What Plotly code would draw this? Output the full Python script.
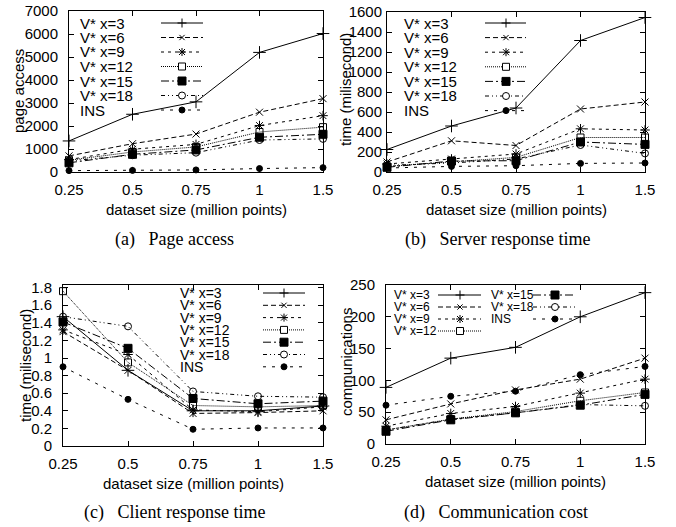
import plotly.graph_objects as go

W, H = 676, 527

# ---------------- data ----------------
dataset_sizes = ["0.25", "0.5", "0.75", "1", "1.5"]
series_names = ["V* x=3", "V* x=6", "V* x=9", "V* x=12", "V* x=15", "V* x=18", "INS"]

page_access = [
    [1350, 2510, 3050, 5200, 6020],   # V* x=3
    [700, 1230, 1650, 2600, 3190],    # V* x=6
    [540, 990, 1200, 2020, 2450],     # V* x=9
    [510, 870, 1090, 1740, 1950],     # V* x=12
    [400, 770, 960, 1510, 1640],      # V* x=15
    [480, 730, 840, 1390, 1440],      # V* x=18
    [60, 70, 90, 150, 190],           # INS
]

server_time = [
    [225, 460, 640, 1315, 1545],
    [100, 312, 265, 630, 700],
    [80, 130, 180, 432, 420],
    [56, 103, 146, 345, 345],
    [47, 110, 113, 300, 276],
    [66, 90, 130, 270, 186],
    [40, 56, 63, 86, 90],
]

client_time = [
    [1.47, 0.86, 0.40, 0.40, 0.455],
    [1.30, 0.86, 0.37, 0.38, 0.40],
    [1.32, 1.04, 0.41, 0.39, 0.445],
    [1.76, 0.95, 0.46, 0.445, 0.46],
    [1.41, 1.11, 0.54, 0.48, 0.51],
    [1.47, 1.36, 0.62, 0.565, 0.555],
    [0.90, 0.53, 0.19, 0.205, 0.205],
]

communication = [
    [89, 135, 152, 200, 238],
    [38, 63, 85, 102, 135],
    [28, 48, 59, 80, 102],
    [22, 39, 51, 68, 81],
    [20, 38, 49, 61, 78],
    [22, 39, 49, 62, 60],
    [61, 75, 83, 109, 122],
]

y_titles = ["page access", "time (milisecond)", "time (milisecond)", "communications"]
captions = ["(a)", "(b)", "(c)", "(d)"]
caption_texts = ["Page access", "Server response time", "Client response time", "Communication cost"]
x_title = "dataset size (million points)"

# ---------------- styles ----------------
dashes = ["solid", "5px,3px", "3px,4px", "1px,1px", "8px,3px,2px,3px", "4px,3px,1px,3px,1px,3px", "3px,6px"]
symbols = ["cross-thin", "x-thin", "asterisk", "square-open", "square", "circle-open", "circle"]
msizes = [9, 7, 8, 7, 8, 7, 6]
SANS = "Liberation Sans, Arial, Helvetica, sans-serif"
SERIF = "Liberation Serif, Times New Roman, serif"

# panel geometry in pixels: frame left, right, top, bottom
panels = [
    dict(data=page_access, frame=(69, 323, 11, 172), yrange=[0, 7000], dtick=1000, standoff=7,
         ytitle=(19, 91), xtitle=(196, 210), caption=(174, 240), legfont=15),
    dict(data=server_time, frame=(387, 645, 12, 172), yrange=[0, 1600], dtick=200, standoff=1,
         ytitle=(345, 90), xtitle=(516, 209), caption=(497, 240), legfont=15),
    dict(data=client_time, frame=(63, 323, 285, 446), yrange=[0, 1.83], dtick=0.2, standoff=7,
         ytitle=(25, 366), xtitle=(193, 483), caption=(174, 512), legfont=14),
    dict(data=communication, frame=(386, 645, 285, 444), yrange=[0, 250], dtick=50, standoff=7,
         ytitle=(346, 362), xtitle=(515, 482), caption=(496, 512), legfont=12),
]

# legend layout per panel: list of columns (text_x, line_x0, line_x1, marker_x, row_y0, row_step, series idx)
legends = [
    [(79, 161, 203, 182, 23, 14.5, list(range(7)))],
    [(403, 485, 526, 506, 23, 14.6, list(range(7)))],
    [(179, 263, 305, 284, 293, 12.3, list(range(7)))],
    [(393, 438, 481, 460, 295, 12.0, [0, 1, 2, 3]),
     (490, 533, 576, 555, 295, 12.0, [4, 5, 6])],
]


def px(x):
    return x / W


def py(y):
    return 1 - y / H


fig = go.Figure()
layout = dict(width=W, height=H, autosize=False, margin=dict(l=0, r=0, t=0, b=0),
              paper_bgcolor="white", plot_bgcolor="white", showlegend=False,
              font=dict(family=SANS, size=15, color="black"))
annotations = []
shapes = []

for p, pan in enumerate(panels):
    k = "" if p == 0 else str(p + 1)
    l, r, t, b = pan["frame"]
    axis_common = dict(showline=True, linecolor="black", linewidth=1, mirror="ticks",
                       ticks="inside", ticklen=5, tickwidth=1, tickcolor="black",
                       showgrid=False, zeroline=False, automargin=False,
                       tickfont=dict(family=SANS, size=15, color="black"))
    layout["xaxis" + k] = dict(axis_common, domain=[px(l), px(r)], anchor="y" + k,
                               type="category", range=[0, len(dataset_sizes) - 1],
                               categoryorder="array", categoryarray=dataset_sizes,
                               ticklabelstandoff=4)
    layout["yaxis" + k] = dict(axis_common, domain=[py(b), py(t)], anchor="x" + k,
                               range=pan["yrange"], dtick=pan["dtick"], tick0=0,
                               ticklabelstandoff=pan["standoff"])
    for i, name in enumerate(series_names):
        fig.add_trace(go.Scatter(
            x=dataset_sizes, y=pan["data"][i], name=name, mode="lines+markers",
            xaxis="x" + k, yaxis="y" + k, cliponaxis=False,
            line=dict(color="black", width=1, dash=dashes[i]),
            marker=dict(symbol=symbols[i], size=msizes[i], color="black",
                        line=dict(color="black", width=1)),
        ))
    # axis titles
    annotations.append(dict(text=y_titles[p], x=px(pan["ytitle"][0]), y=py(pan["ytitle"][1]),
                            xref="paper", yref="paper", showarrow=False, textangle=-90,
                            xanchor="center", yanchor="middle",
                            font=dict(family=SANS, size=15, color="black")))
    annotations.append(dict(text=x_title, x=px(pan["xtitle"][0]), y=py(pan["xtitle"][1]),
                            xref="paper", yref="paper", showarrow=False,
                            xanchor="center", yanchor="middle",
                            font=dict(family=SANS, size=15, color="black")))
    annotations.append(dict(text=captions[p] + "\u2002 " + caption_texts[p],
                            x=px(pan["caption"][0]), y=py(pan["caption"][1]),
                            xref="paper", yref="paper", showarrow=False,
                            xanchor="center", yanchor="middle",
                            font=dict(family=SERIF, size=18, color="black")))

    # legend (gnuplot style: label on the left, sample on the right)
    for (tx, lx0, lx1, mx, ry0, step, idxs) in legends[p]:
        for j, i in enumerate(idxs):
            yy = ry0 + j * step
            annotations.append(dict(text=series_names[i], x=px(tx), y=py(yy),
                                    xref="paper", yref="paper", showarrow=False,
                                    xanchor="left", yanchor="middle", borderpad=0,
                                    font=dict(family=SANS, size=pan["legfont"], color="black")))
            shapes.append(dict(type="line", xref="paper", yref="paper",
                               x0=px(lx0), x1=px(lx1), y0=py(yy), y1=py(yy),
                               line=dict(color="black", width=1, dash=dashes[i])))
            s = msizes[i] / 2.0
            base = dict(xref="paper", yref="paper", xsizemode="pixel", ysizemode="pixel",
                        xanchor=px(mx), yanchor=py(yy))
            sym = symbols[i]
            segs = []
            if sym in ("cross-thin", "asterisk"):
                segs += [(-s, 0, s, 0), (0, -s, 0, s)]
            if sym in ("x-thin", "asterisk"):
                d = s * 0.75
                segs += [(-d, -d, d, d), (-d, d, d, -d)]
            for (a0, b0, a1, b1) in segs:
                shapes.append(dict(base, type="line", x0=a0, y0=b0, x1=a1, y1=b1,
                                   line=dict(color="black", width=1)))
            if sym.startswith("square"):
                shapes.append(dict(base, type="rect", x0=-s, x1=s, y0=-s, y1=s,
                                   line=dict(color="black", width=1),
                                   fillcolor="black" if sym == "square" else "white"))
            if sym.startswith("circle"):
                shapes.append(dict(base, type="circle", x0=-s, x1=s, y0=-s, y1=s,
                                   line=dict(color="black", width=1),
                                   fillcolor="black" if sym == "circle" else "white"))

layout["annotations"] = annotations
layout["shapes"] = shapes
fig.update_layout(**layout)
fig.write_html("out.html", config={"displayModeBar": False},
               post_script="document.body.style.margin='0';document.body.style.padding='0';")
